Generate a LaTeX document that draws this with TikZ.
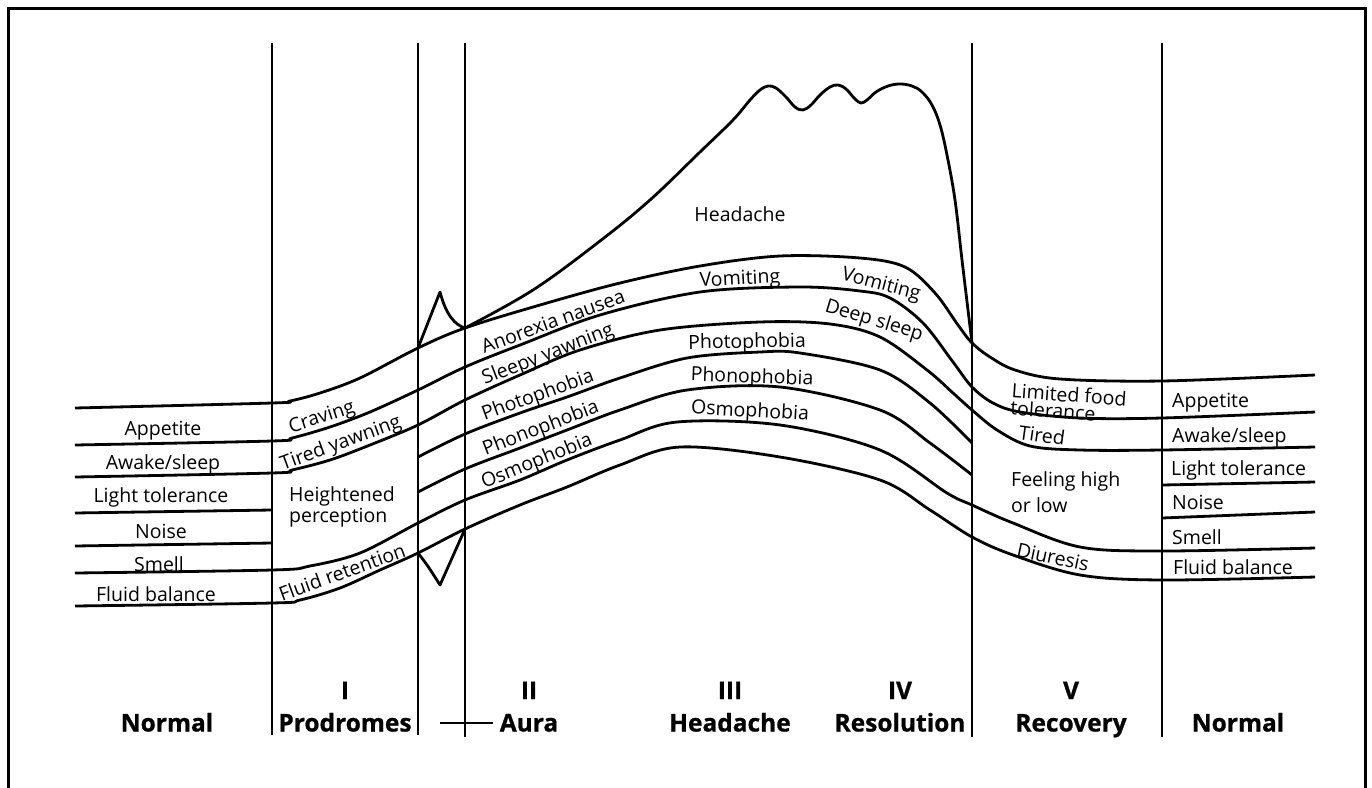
\documentclass[tikz,border=0pt]{standalone}
\usepackage{fontspec}
\setmainfont{Open Sans}
\newfontfamily\heavyfont{Open Sans}[BoldFeatures={FakeBold=0.8}]
\usepackage{tikz}
\usetikzlibrary{positioning}

\begin{document}
\begin{tikzpicture}[x=1pt,y=-1pt,
  lbl/.style={font=\fontsize{19.5}{21}\selectfont,inner sep=0pt},
  stack/.style={lbl,align=left,anchor=west},
  phase/.style={font=\heavyfont\bfseries\fontsize{24.5}{26}\selectfont,inner sep=0pt,
                text height=17pt,text depth=4pt},
  band/.style={line width=2.8pt,line join=round},
  divider/.style={line width=2.2pt},
  node distance=11pt
]
\useasboundingbox (0,0) rectangle (1372,787);
% frame, open at the bottom
\draw[line width=3pt] (8,800) -- (8,8) -- (1365,8) -- (1365,800);

% phase dividers
\foreach \x/\b in {272/735,418/735,465/737,972/737,1162/737}
  \draw[divider] (\x,43) -- (\x,\b);
\draw[divider] (440,723) -- (493,723);

% symptom bands
\draw[band] plot[smooth,tension=0.55] coordinates {(75,408) (272,403) (290,401)
  (320,393) (360,378) (418,348) (465,328) (540,305) (620,283) (700,266) (780,256)
  (860,258) (905,267) (935,293) (958,325) (972,343) (990,357) (1015,370)
  (1060,379) (1162,381) (1315,375)};
\draw[band] plot[smooth,tension=0.55] coordinates {(75,445) (272,441) (292,438)
  (330,427) (370,412) (418,390) (465,367) (520,345) (600,315) (700,292)
  (800,287) (860,291) (890,298) (923,323) (953,362) (972,387) (993,403)
  (1020,412) (1080,418) (1162,418) (1315,412)};
\draw[band] plot[smooth,tension=0.55] coordinates {(75,477) (272,473) (292,470)
  (330,460) (370,445) (418,425) (465,400) (520,375) (580,350) (660,330)
  (760,322) (830,324) (880,337) (927,370) (953,393) (972,410) (997,430)
  (1030,446) (1080,450) (1162,450) (1315,447)};
\draw[band] (75,513) -- (272,510);
\draw[band] (75,546) -- (272,543);
\draw[band] plot[smooth,tension=0.55] coordinates {(418,457) (465,434) (520,413)
  (567,397) (620,378) (687,358) (760,352) (800,353) (880,370) (930,403) (972,443)};
\draw[band] plot[smooth,tension=0.55] coordinates {(418,492) (465,469) (520,448)
  (567,430) (620,410) (687,390) (780,387) (880,410) (930,443) (972,475)};
\draw[band] plot[smooth,tension=0.55] coordinates {(75,573) (272,570) (310,566)
  (360,553) (418,523) (465,500) (520,480) (567,460) (620,440) (677,422)
  (780,425) (880,450) (947,493) (972,505) (1013,523) (1080,547) (1162,551)
  (1315,548)};
\draw[band] plot[smooth,tension=0.55] coordinates {(75,606) (272,603) (300,600)
  (340,588) (380,570) (418,553) (465,529) (520,505) (567,487) (620,465)
  (680,447) (780,457) (880,480) (930,510) (972,537) (1013,555) (1080,575)
  (1162,580) (1315,577)};
\draw[band] (1162,485) -- (1315,482);
\draw[band] (1162,518) -- (1315,512);

% headache curve and aura cusps
\draw[band] plot[smooth,tension=0.6] coordinates {(465,328) (533,290) (600,241)
  (650,200) (700,152) (733,120) (750,100) (760,90) (768,86) (776,88) (786,97)
  (795,107) (803,110) (811,105) (820,95) (830,87) (838,85) (846,89) (855,99)
  (861,103) (867,100) (876,92) (888,86) (900,84) (912,86) (922,92) (932,105)
  (940,125) (947,155) (955,200) (962,260) (968,310) (972,343)};
\draw[band] (418,348) -- (440,292) .. controls (446,315) and (455,325) .. (465,328);
\draw[band] (418,553) .. controls (428,566) .. (440,585) -- (465,529);

% normal (left)
\node[lbl] (lApp) at (163,431) {Appetite};
\node[lbl] (lAwake) at (163,464) {Awake/sleep};
\node[lbl] (lLight) at (161,497) {Light tolerance};
\node[lbl] (lNoise) at (161,531) {Noise};
\node[lbl] (lSmell) at (159,564) {Smell};
\node[lbl] (lFluid) at (156,594) {Fluid balance};

% prodromes
\node[lbl,rotate=18] (pCrav) at (322,418) {Craving};
\node[lbl,rotate=20] (pTired) at (341,444) {Tired yawning};
\node[stack] (pHigh) at (289,507) {Heightened\\perception};
\node[lbl,rotate=20] (pFluid) at (342,572) {Fluid retention};

% aura
\node[lbl,rotate=20] (aAnor) at (553,321) {Anorexia nausea};
\node[lbl,rotate=21] (aSleep) at (548,355) {Sleepy yawning};
\node[lbl,rotate=20] (aPhoto) at (538,396) {Photophobia};
\node[lbl,rotate=21] (aPhono) at (541,429) {Phonophobia};
\node[lbl,rotate=22] (aOsmo) at (537,462) {Osmophobia};

% headache and resolution
\node[lbl] (hHead) at (740,214) {Headache};
\node[lbl,rotate=3] (hVom) at (740,280) {Vomiting};
\node[lbl,rotate=1] (hPhoto) at (747,343) {Photophobia};
\node[lbl,rotate=-2] (hPhono) at (752,378) {Phonophobia};
\node[lbl,rotate=-3] (hOsmo) at (750,412) {Osmophobia};
\node[lbl,rotate=-15] (sVom) at (881,285) {Vomiting};
\node[lbl,rotate=-17] (sDeep) at (874,321) {Deep sleep};

% recovery
\node[stack,font=\fontsize{19.5}{17}\selectfont,rotate=-4] (vFood) at (1011,399) {Limited food\\tolerance};
\node[lbl,rotate=-8] (vTired) at (1042,435) {Tired};
\node[stack,font=\fontsize{19.5}{26}\selectfont] (vHigh) at (1011,492) {Feeling high\\or low};
\node[lbl,rotate=-12] (vDiur) at (1053,557) {Diuresis};

% normal (right)
\node[lbl,anchor=west] (rApp) at (1172,403) {Appetite};
\node[lbl,anchor=west] (rAwake) at (1172,437) {Awake/sleep};
\node[lbl,anchor=west] (rLight) at (1171,470) {Light tolerance};
\node[lbl,anchor=west] (rNoise) at (1172,502) {Noise};
\node[lbl,anchor=west] (rSmell) at (1172,537) {Smell};
\node[lbl,anchor=west] (rFluid) at (1173,567) {Fluid balance};

% phases
\node[phase] (nNormL) at (167,725) {Normal};
\node[phase] (nProd) at (345,725) {Prodromes};
\node[phase] (nAura) at (529,725) {Aura};
\node[phase] (nHead) at (730,725) {Headache};
\node[phase] (nRes) at (900,725) {Resolution};
\node[phase] (nRec) at (1071,725) {Recovery};
\node[phase] (nNormR) at (1238,725) {Normal};
\node[phase,above=of nProd] (nI) {I};
\node[phase,above=of nAura] (nII) {II};
\node[phase,above=of nHead] (nIII) {III};
\node[phase,above=of nRes] (nIV) {IV};
\node[phase,above=of nRec] (nV) {V};
\end{tikzpicture}
\end{document}
